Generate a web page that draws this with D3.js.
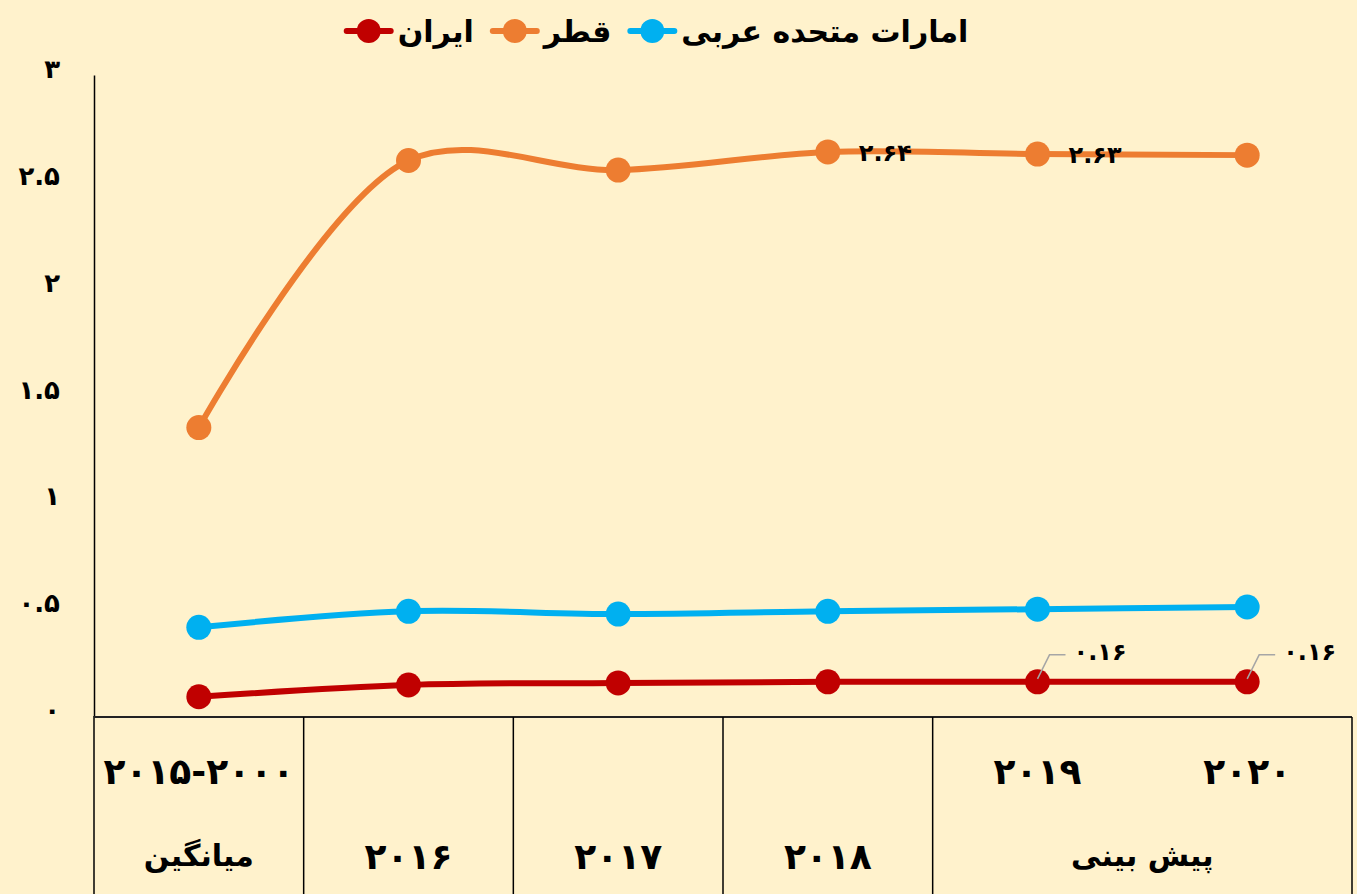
<!DOCTYPE html>
<html>
<head>
<meta charset="utf-8">
<script src="https://cdn.jsdelivr.net/npm/d3@7"></script>
<style>
  body { margin: 0; background: #FFF2CC; }
  svg { display: block; }
  text { font-family: "DejaVu Sans", sans-serif; font-weight: bold; fill: #000; }
</style>
</head>
<body>
<div id="chart"></div>
<script>
// categories (bottom table), two rows
const categorias = ["avg", "2016", "2017", "2018", "2019", "2020"];
const filaArriba = ["۲۰۱۵-۲۰۰۰", "", "", "", "۲۰۱۹", "۲۰۲۰"];
const filaAbajo = [
  { texto: "میانگین", desde: 0, hasta: 0, num: false },
  { texto: "۲۰۱۶", desde: 1, hasta: 1, num: true },
  { texto: "۲۰۱۷", desde: 2, hasta: 2, num: true },
  { texto: "۲۰۱۸", desde: 3, hasta: 3, num: true },
  { texto: "پیش بینی", desde: 4, hasta: 5, num: false }
];

// series values
const iran = [0.09, 0.145, 0.155, 0.16, 0.16, 0.16];
const qatar = [1.35, 2.6, 2.555, 2.64, 2.63, 2.625];
const emarat = [0.415, 0.49, 0.477, 0.49, 0.5, 0.51];

const ticksY = [0, 0.5, 1, 1.5, 2, 2.5, 3];

// data labels shown on the chart
const etiquetas = [
  { serie: "qatar", i: 3, texto: "۲.۶۴" },
  { serie: "qatar", i: 4, texto: "۲.۶۳" },
  { serie: "iran", i: 4, texto: "۰.۱۶" },
  { serie: "iran", i: 5, texto: "۰.۱۶" }
];

const series = [
  { id: "iran", nombre: "ایران", color: "#C00000", valores: iran },
  { id: "qatar", nombre: "قطر", color: "#ED7D31", valores: qatar },
  { id: "emarat", nombre: "امارات متحده عربی", color: "#00B0F0", valores: emarat }
];

const ancho = 1357, alto = 894;
const izq = 94, der = 1352, arriba = 75, base = 716;

function persa(s) {
  return String(s).replace(/[0-9]/g, d => "۰۱۲۳۴۵۶۷۸۹"[+d]);
}

const svg = d3.select("#chart").append("svg")
  .attr("width", ancho)
  .attr("height", alto);

svg.append("rect").attr("width", ancho).attr("height", alto).attr("fill", "#FFF2CC");

const x = d3.scaleBand().domain(d3.range(categorias.length)).range([izq, der]);
const cx = i => x(i) + x.bandwidth() / 2;
const y = d3.scaleLinear().domain([0, 3]).range([base, arriba]);

// eje Y
const ejeY = svg.append("g")
  .attr("transform", `translate(${izq},0)`)
  .call(d3.axisLeft(y).tickValues(ticksY).tickSize(0).tickPadding(34).tickFormat(d => persa(d)));
ejeY.select(".domain").attr("stroke", "#000").attr("stroke-width", 1.5);
ejeY.selectAll("text")
  .style("font-size", "26px")
  .style("font-family", "'DejaVu Sans', sans-serif")
  .style("font-weight", "bold")
  .attr("dy", "0.1em");
// extend the axis line through the table
svg.append("line")
  .attr("x1", izq).attr("x2", izq).attr("y1", base).attr("y2", alto)
  .attr("stroke", "#000").attr("stroke-width", 1.5);

// tabla de categorias
const yTabla = 717;
svg.append("line")
  .attr("x1", izq).attr("x2", der).attr("y1", yTabla).attr("y2", yTabla)
  .attr("stroke", "#222").attr("stroke-width", 2);
const divisores = [1, 2, 3, 4].map(i => x(i)).concat([der]);
svg.selectAll(".div")
  .data(divisores)
  .enter()
  .append("line")
  .attr("x1", d => d).attr("x2", d => d)
  .attr("y1", yTabla).attr("y2", alto)
  .attr("stroke", "#000").attr("stroke-width", 1.5);

svg.selectAll(".fila1")
  .data(filaArriba)
  .enter()
  .append("text")
  .attr("x", (d, i) => cx(i))
  .attr("y", 784)
  .attr("text-anchor", "middle")
  .attr("direction", "ltr")
  .style("font-size", "36px")
  .text(d => d);

svg.selectAll(".fila2")
  .data(filaAbajo)
  .enter()
  .append("text")
  .attr("x", d => (cx(d.desde) + cx(d.hasta)) / 2)
  .attr("y", d => d.num ? 869 : 866)
  .attr("text-anchor", "middle")
  .style("font-size", d => d.num ? "36px" : "30px")
  .text(d => d.texto);

// lineas
const linea = d3.line()
  .x((d, i) => cx(i))
  .y(d => y(d))
  .curve(d3.curveCatmullRom.alpha(0.5));

const capa = svg.append("g");
series.slice().reverse().forEach(s => {
  capa.append("path")
    .datum(s.valores)
    .attr("d", linea)
    .attr("fill", "none")
    .attr("stroke", s.color)
    .attr("stroke-width", 6)
    .attr("stroke-linecap", "round");
  capa.selectAll(".p-" + s.id)
    .data(s.valores)
    .enter()
    .append("circle")
    .attr("cx", (d, i) => cx(i))
    .attr("cy", d => y(d))
    .attr("r", 12.5)
    .attr("fill", s.color);
});

// etiquetas de datos
const porId = Object.fromEntries(series.map(s => [s.id, s]));
etiquetas.forEach(e => {
  const px = cx(e.i), py = y(porId[e.serie].valores[e.i]);
  if (e.serie === "iran") {
    svg.append("polyline")
      .attr("points", `${px},${py - 3} ${px + 12},${py - 27} ${px + 28},${py - 27}`)
      .attr("fill", "none")
      .attr("stroke", "#A6A6A6")
      .attr("stroke-width", 1.5);
    svg.append("text")
      .attr("x", px + 36)
      .attr("y", py - 22)
      .attr("direction", "ltr")
      .style("font-size", "24px")
      .text(e.texto);
  } else {
    svg.append("text")
      .attr("x", px + 31)
      .attr("y", py + 9)
      .attr("direction", "ltr")
      .style("font-size", "24px")
      .text(e.texto);
  }
});

// leyenda (derecha a izquierda: emarat, qatar, iran)
const leyenda = svg.append("g");
const ordenLeyenda = [porId.emarat, porId.qatar, porId.iran];
let cursor = 0;
ordenLeyenda.forEach(s => {
  const g = leyenda.append("g");
  const t = g.append("text")
    .attr("y", 42)
    .attr("text-anchor", "end")
    .style("font-size", "30px")
    .text(s.nombre);
  const w = t.node().getComputedTextLength();
  t.attr("x", cursor);
  const mx = cursor - w - 6 - 23;
  g.append("line")
    .attr("x1", mx - 22).attr("x2", mx + 22).attr("y1", 31).attr("y2", 31)
    .attr("stroke", s.color).attr("stroke-width", 6).attr("stroke-linecap", "round");
  g.append("circle").attr("cx", mx).attr("cy", 31).attr("r", 12).attr("fill", s.color);
  cursor = mx - 23 - 18;
});
const anchoLeyenda = -cursor - 18;
leyenda.attr("transform", `translate(${657 + anchoLeyenda / 2},0)`);
</script>
</body>
</html>
